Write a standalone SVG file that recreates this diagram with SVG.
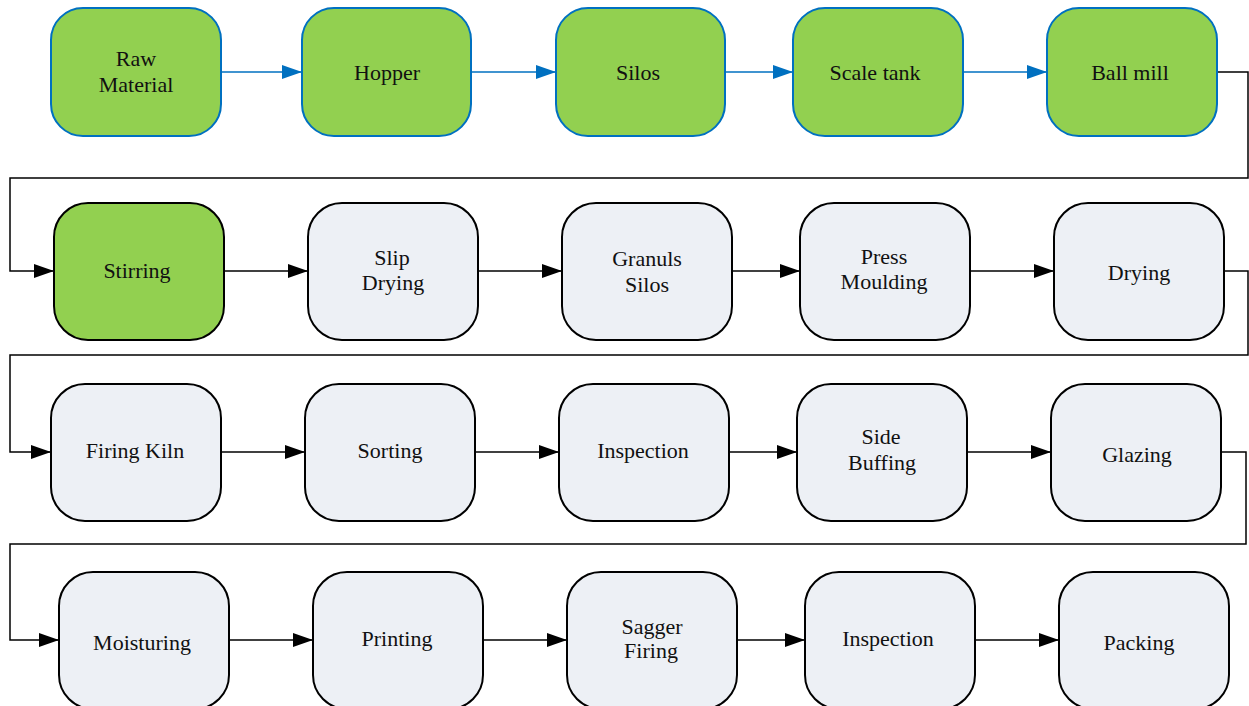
<svg xmlns="http://www.w3.org/2000/svg" width="1249" height="706" viewBox="0 0 1249 706">
<style>
.g{fill:#92D050;stroke:#0070C0;stroke-width:2}
.gk{fill:#92D050;stroke:#000;stroke-width:2}
.w{fill:#EDF0F5;stroke:#000;stroke-width:2}
text{font-family:"Liberation Serif","Times New Roman",serif;font-size:22px;fill:#111;text-anchor:middle}
.cb{fill:none;stroke:#0070C0;stroke-width:1.5}
.ck{fill:none;stroke:#000;stroke-width:1.5}
</style>
<defs>
<marker id="ab" markerUnits="userSpaceOnUse" markerWidth="20" markerHeight="14" refX="20" refY="7" orient="auto"><path d="M0,0 L20,7 L0,14 Z" fill="#0070C0"/></marker>
<marker id="ak" markerUnits="userSpaceOnUse" markerWidth="20" markerHeight="14" refX="20" refY="7" orient="auto"><path d="M0,0 L20,7 L0,14 Z" fill="#000"/></marker>
</defs>
<rect width="1249" height="706" fill="#fff"/>
<g id="connectors">
<path class="cb" d="M221,72 H302" marker-end="url(#ab)"/>
<path class="cb" d="M471,72 H556" marker-end="url(#ab)"/>
<path class="cb" d="M725,72 H793" marker-end="url(#ab)"/>
<path class="cb" d="M963,72 H1047" marker-end="url(#ab)"/>
<path class="ck" d="M1217,72 H1248 V178 H10 V271 H54" marker-end="url(#ak)"/>
<path class="ck" d="M224,271 H308" marker-end="url(#ak)"/>
<path class="ck" d="M478,271 H562" marker-end="url(#ak)"/>
<path class="ck" d="M732,271 H800" marker-end="url(#ak)"/>
<path class="ck" d="M970,271 H1054" marker-end="url(#ak)"/>
<path class="ck" d="M1224,271 H1248 V355 H10 V452 H51" marker-end="url(#ak)"/>
<path class="ck" d="M221,452 H305" marker-end="url(#ak)"/>
<path class="ck" d="M475,452 H559" marker-end="url(#ak)"/>
<path class="ck" d="M729,452 H797" marker-end="url(#ak)"/>
<path class="ck" d="M967,452 H1051" marker-end="url(#ak)"/>
<path class="ck" d="M1221,452 H1246 V544 H10 V640 H59" marker-end="url(#ak)"/>
<path class="ck" d="M229,640 H313" marker-end="url(#ak)"/>
<path class="ck" d="M483,640 H567" marker-end="url(#ak)"/>
<path class="ck" d="M737,640 H805" marker-end="url(#ak)"/>
<path class="ck" d="M975,640 H1059" marker-end="url(#ak)"/>
</g>
<g id="raw-material"><rect class="g" x="51" y="8" width="170" height="128" rx="32"/><text x="136" y="66">Raw</text><text x="136" y="92">Material</text></g>
<g id="hopper"><rect class="g" x="302" y="8" width="169" height="128" rx="32"/><text x="387" y="80">Hopper</text></g>
<g id="silos"><rect class="g" x="556" y="8" width="169" height="128" rx="32"/><text x="638" y="80">Silos</text></g>
<g id="scale-tank"><rect class="g" x="793" y="8" width="170" height="128" rx="32"/><text x="875" y="80">Scale tank</text></g>
<g id="ball-mill"><rect class="g" x="1047" y="8" width="170" height="128" rx="32"/><text x="1130" y="80">Ball mill</text></g>

<g id="stirring"><rect class="gk" x="54" y="203" width="170" height="137" rx="34"/><text x="137" y="278">Stirring</text></g>
<g id="slip-drying"><rect class="w" x="308" y="203" width="170" height="137" rx="34"/><text x="392" y="265">Slip</text><text x="393" y="290">Drying</text></g>
<g id="granuls-silos"><rect class="w" x="562" y="203" width="170" height="137" rx="34"/><text x="647" y="266">Granuls</text><text x="647" y="292">Silos</text></g>
<g id="press-moulding"><rect class="w" x="800" y="203" width="170" height="137" rx="34"/><text x="884" y="264">Press</text><text x="884" y="289">Moulding</text></g>
<g id="drying"><rect class="w" x="1054" y="203" width="170" height="137" rx="34"/><text x="1139" y="280">Drying</text></g>

<g id="firing-kiln"><rect class="w" x="51" y="384" width="170" height="137" rx="34"/><text x="135" y="458">Firing Kiln</text></g>
<g id="sorting"><rect class="w" x="305" y="384" width="170" height="137" rx="34"/><text x="390" y="458">Sorting</text></g>
<g id="inspection-1"><rect class="w" x="559" y="384" width="170" height="137" rx="34"/><text x="643" y="458">Inspection</text></g>
<g id="side-buffing"><rect class="w" x="797" y="384" width="170" height="137" rx="34"/><text x="881" y="444">Side</text><text x="882" y="470">Buffing</text></g>
<g id="glazing"><rect class="w" x="1051" y="384" width="170" height="137" rx="34"/><text x="1137" y="462">Glazing</text></g>

<g id="moisturing"><rect class="w" x="59" y="572" width="170" height="137" rx="34"/><text x="142" y="650">Moisturing</text></g>
<g id="printing"><rect class="w" x="313" y="572" width="170" height="137" rx="34"/><text x="397" y="646">Printing</text></g>
<g id="sagger-firing"><rect class="w" x="567" y="572" width="170" height="137" rx="34"/><text x="652" y="634">Sagger</text><text x="651" y="658">Firing</text></g>
<g id="inspection-2"><rect class="w" x="805" y="572" width="170" height="137" rx="34"/><text x="888" y="646">Inspection</text></g>
<g id="packing"><rect class="w" x="1059" y="572" width="170" height="137" rx="34"/><text x="1139" y="650">Packing</text></g>
</svg>
